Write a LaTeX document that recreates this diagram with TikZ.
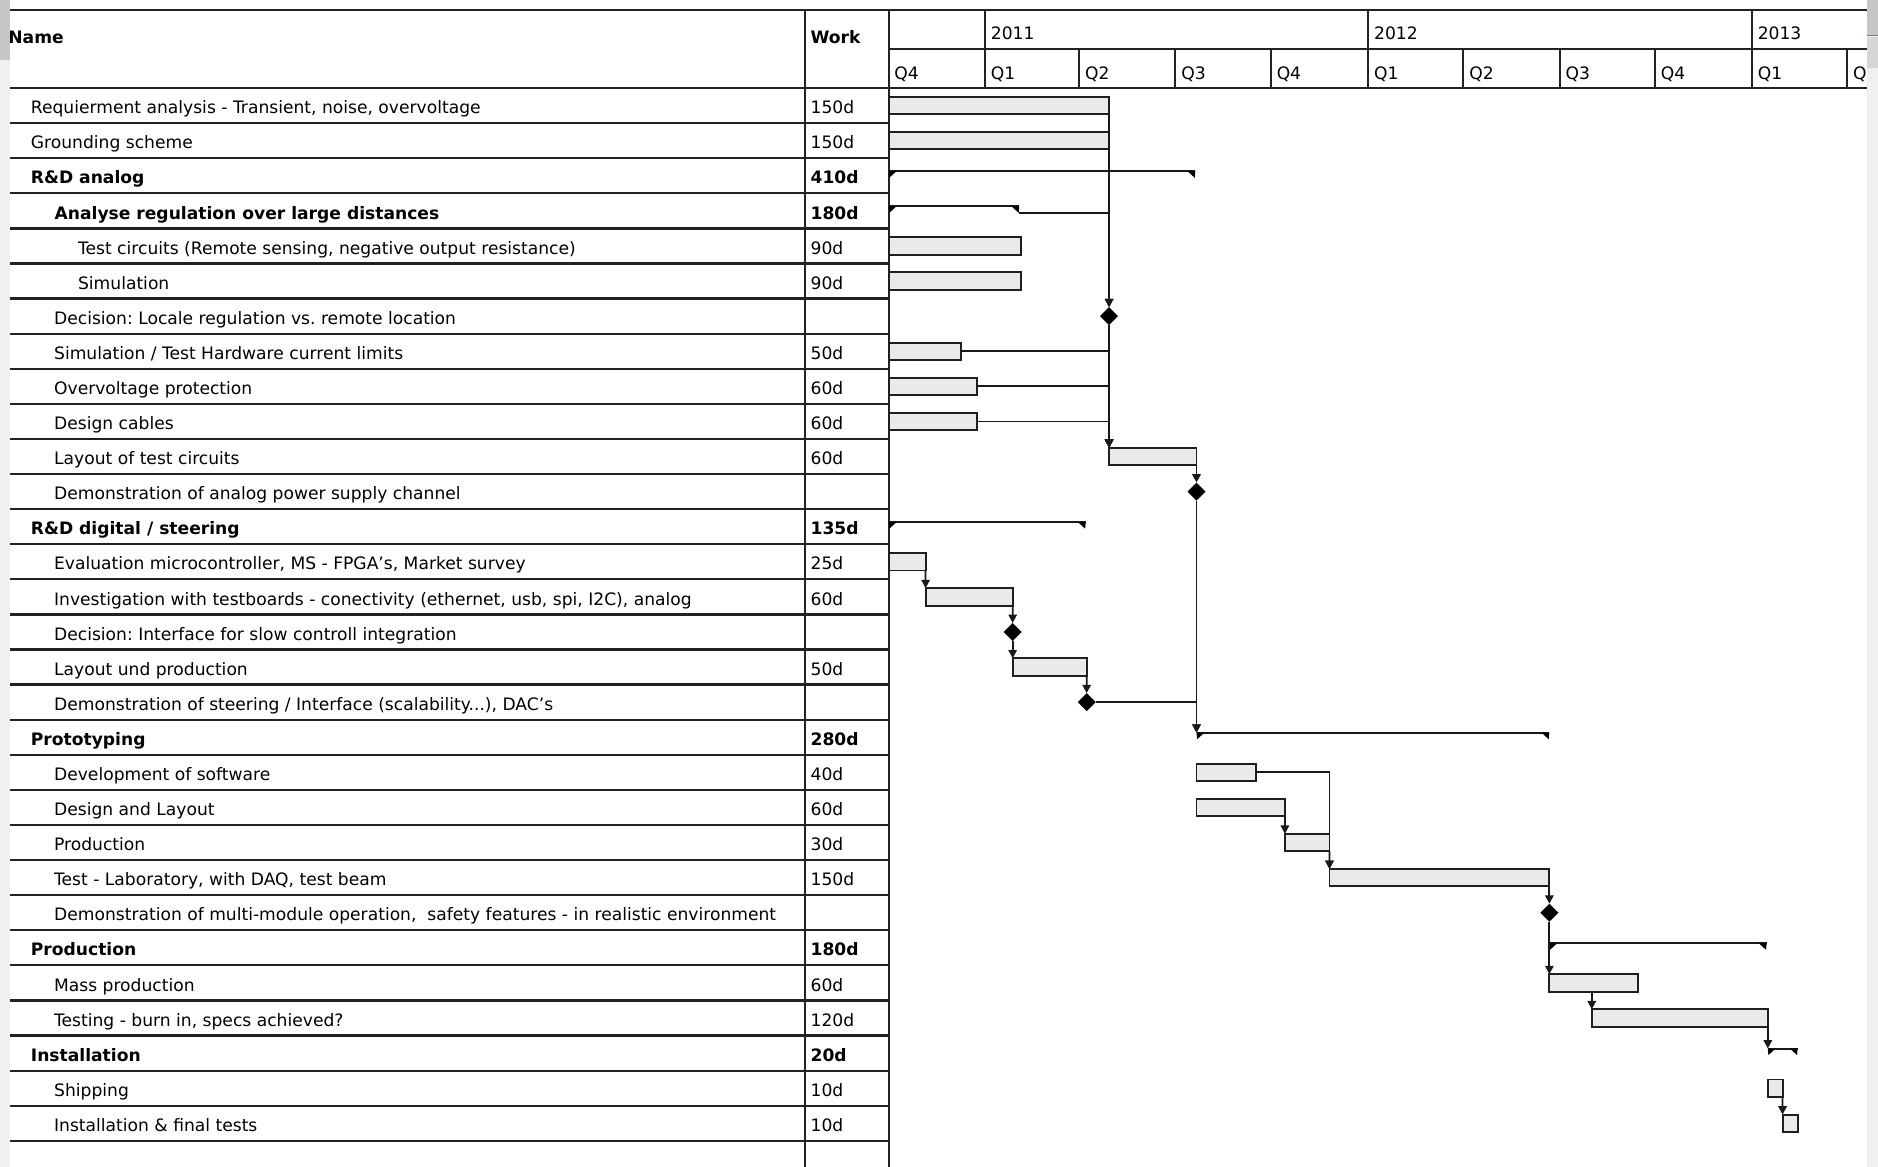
\documentclass[tikz,border=0pt]{standalone}
\usepackage{fontspec}
\setmainfont{DejaVu Sans}
\usetikzlibrary{calc,shapes.geometric,arrows.meta}
\definecolor{barfill}{HTML}{EAEAEA}
\definecolor{gridc}{HTML}{222222}
\definecolor{stripl}{HTML}{F0F0F0}
\definecolor{stripd}{HTML}{C6C6C6}
\definecolor{stripm}{HTML}{D6D6D6}
\definecolor{stripg}{HTML}{4E9E4E}
\newcommand\fsz{\fontsize{14.3}{17}\selectfont\frenchspacing}
\tikzset{
 gridline/.style={line width=1.7pt, draw=gridc},
 rowline/.style={line width=1.9pt, draw=gridc},
 barbox/.style={rectangle, draw=black!88, fill=barfill, line width=1.6pt, inner sep=0pt, outer sep=0pt, minimum height=14.5pt, anchor=west},
 mile/.style={diamond, fill=black, inner sep=0pt, outer sep=0pt, minimum width=15pt, minimum height=15pt},
 conn/.style={line width=1.5pt, draw=black!90},
 arr/.style={conn, -{Triangle[width=7pt,length=7pt]}},
 summ/.style={line width=1.6pt, draw=black!90},
 lbl/.style={anchor=base west, inner sep=0pt, outer sep=0pt, font=\fsz},
 bld/.style={lbl, font=\fsz\bfseries},
}
\newcommand\taskbar[4]{\node[barbox, minimum width={#4-#3}] (#1) at ($(r#2)+(#3,0)$) {};}
\newcommand\milestone[3]{\node[mile] (#1) at ($(r#2)+(#3,0)$) {};}
\newcommand\summarybar[4]{%
 \coordinate (#1a) at ($(r#2)+(#3,-3.8)$);
 \coordinate (#1b) at ($(r#2)+(#4,-3.8)$);
 \coordinate (#1t) at ($(r#2)+({#4-0.5},1.7)$);
 \draw[summ] (#1a) -- (#1b);
 \fill (#1a) -- ++(6.5,0) -- ++(-6,5.5) -- cycle;
 \fill (#1b) -- ++(-6.5,0) -- ++(6,5.5) -- cycle;}
\newcommand\tname[4]{\node[#1] (t#2) at ($(r#2)+(#3,6.8)$) {#4};}
\newcommand\twork[3]{\node[#1] (w#2) at ($(r#2)+(676.8,6.8)$) {#3};}
\begin{document}
\begin{tikzpicture}[x=1pt,y=-1pt]
\useasboundingbox (0,0) rectangle (1568,974);
\fill[white] (0,0) rectangle (1568,974);
\foreach \i in {1,...,30}{\coordinate (r\i) at (0,{58.85+29.3*\i});}
% grid
\draw[gridline] (8,8) -- (1558.5,8);
\draw[gridline] (742,41.2) -- (1558.5,41.2);
\draw[rowline] (8,73.5) -- (1558.5,73.5);
\foreach \k in {1,...,30}{\draw[rowline] (8,{73.5+29.3*\k}) -- (742,{73.5+29.3*\k});}
\draw[gridline] (672,8) -- (672,974);
\draw[gridline] (742,8) -- (742,974);
\foreach \x in {822.3,1142.3,1462.6}{\draw[gridline] (\x,8) -- (\x,73.5);}
\foreach \x in {901,981.3,1061,1221.8,1302.2,1381.7,1542.2}{\draw[gridline] (\x,41.2) -- (\x,73.5);}
% header texts
\node[bld] (hname) at (7,36.2) {Name};
\node[bld] (hwork) at (676.8,36.2) {Work};
\node[lbl] (y1) at (827.3,32.8) {2011};
\node[lbl] (y2) at (1147.3,32.8) {2012};
\node[lbl] (y3) at (1467.6,32.8) {2013};
\node[lbl] (q1) at (746.7,66.5) {Q4};
\node[lbl] (q2) at (827.3,66.5) {Q1};
\node[lbl] (q3) at (906,66.5) {Q2};
\node[lbl] (q4) at (986.3,66.5) {Q3};
\node[lbl] (q5) at (1066,66.5) {Q4};
\node[lbl] (q6) at (1147.3,66.5) {Q1};
\node[lbl] (q7) at (1226.8,66.5) {Q2};
\node[lbl] (q8) at (1307.2,66.5) {Q3};
\node[lbl] (q9) at (1386.7,66.5) {Q4};
\node[lbl] (q10) at (1467.6,66.5) {Q1};
\node[lbl] (q11) at (1547.2,66.5) {Q};
% task names
\tname{lbl}{1}{25.8}{Requierment analysis - Transient, noise, overvoltage}
\tname{lbl}{2}{25.8}{Grounding scheme}
\tname{bld}{3}{25.8}{R\&D analog}
\tname{bld}{4}{45.6}{Analyse regulation over large distances}
\tname{lbl}{5}{65.2}{Test circuits (Remote sensing, negative output resistance)}
\tname{lbl}{6}{65.2}{Simulation}
\tname{lbl}{7}{45.2}{Decision: Locale regulation vs. remote location}
\tname{lbl}{8}{45.2}{Simulation / Test Hardware current limits}
\tname{lbl}{9}{45.2}{Overvoltage protection}
\tname{lbl}{10}{45.2}{Design cables}
\tname{lbl}{11}{45.2}{Layout of test circuits}
\tname{lbl}{12}{45.2}{Demonstration of analog power supply channel}
\tname{bld}{13}{25.8}{R\&D digital / steering}
\tname{lbl}{14}{45.2}{Evaluation microcontroller, MS - FPGA's, Market survey}
\tname{lbl}{15}{45.2}{Investigation with testboards - conectivity (ethernet, usb, spi, I2C), analog}
\tname{lbl}{16}{45.2}{Decision: Interface for slow controll integration}
\tname{lbl}{17}{45.2}{Layout und production}
\tname{lbl}{18}{45.2}{Demonstration of steering / Interface (scalability...), DAC's}
\tname{bld}{19}{25.8}{Prototyping}
\tname{lbl}{20}{45.2}{Development of software}
\tname{lbl}{21}{45.2}{Design and Layout}
\tname{lbl}{22}{45.2}{Production}
\tname{lbl}{23}{45.2}{Test - Laboratory, with DAQ, test beam}
\tname{lbl}{24}{45.2}{Demonstration of multi-module operation,~ safety features - in realistic environment}
\tname{bld}{25}{25.8}{Production}
\tname{lbl}{26}{45.2}{Mass production}
\tname{lbl}{27}{45.2}{Testing - burn in, specs achieved?}
\tname{bld}{28}{25.8}{Installation}
\tname{lbl}{29}{45.2}{Shipping}
\tname{lbl}{30}{45.2}{Installation \& final tests}
% work
\twork{lbl}{1}{150d}
\twork{lbl}{2}{150d}
\twork{bld}{3}{410d}
\twork{bld}{4}{180d}
\twork{lbl}{5}{90d}
\twork{lbl}{6}{90d}
\twork{lbl}{8}{50d}
\twork{lbl}{9}{60d}
\twork{lbl}{10}{60d}
\twork{lbl}{11}{60d}
\twork{bld}{13}{135d}
\twork{lbl}{14}{25d}
\twork{lbl}{15}{60d}
\twork{lbl}{17}{50d}
\twork{bld}{19}{280d}
\twork{lbl}{20}{40d}
\twork{lbl}{21}{60d}
\twork{lbl}{22}{30d}
\twork{lbl}{23}{150d}
\twork{bld}{25}{180d}
\twork{lbl}{26}{60d}
\twork{lbl}{27}{120d}
\twork{bld}{28}{20d}
\twork{lbl}{29}{10d}
\twork{lbl}{30}{10d}
% bars
\taskbar{b1}{1}{742}{926}
\taskbar{b2}{2}{742}{926}
\summarybar{s3}{3}{742}{998}
\summarybar{s4}{4}{742}{851}
\taskbar{b5}{5}{742}{852.2}
\taskbar{b6}{6}{742}{852.2}
\milestone{m7}{7}{926}
\taskbar{b8}{8}{742}{802.5}
\taskbar{b9}{9}{742}{815.5}
\taskbar{b10}{10}{742}{815.5}
\taskbar{b11}{11}{926}{999}
\milestone{m12}{12}{999}
\summarybar{s13}{13}{742}{906.5}
\taskbar{b14}{14}{742}{772.8}
\taskbar{b15}{15}{772.8}{845.5}
\milestone{m16}{16}{845.5}
\taskbar{b17}{17}{845.5}{907.3}
\milestone{m18}{18}{907.3}
\summarybar{s19}{19}{999}{1293.6}
\taskbar{b20}{20}{999}{1048.4}
\taskbar{b21}{21}{999}{1072.8}
\taskbar{b22}{22}{1072.8}{1110}
\taskbar{b23}{23}{1110}{1293.6}
\milestone{m24}{24}{1293.6}
\summarybar{s25}{25}{1293.6}{1475}
\taskbar{b26}{26}{1293.6}{1367.3}
\taskbar{b27}{27}{1329}{1476}
\summarybar{s28}{28}{1476}{1500.9}
\taskbar{b29}{29}{1476}{1488.3}
\taskbar{b30}{30}{1488.3}{1500.9}
% connectors
\draw[arr] (b1.south east) -- (m7.north);
\draw[arr] (b2.south east) -- (m7.north);
\draw[arr] (s4t) -| (m7.north);
\draw[arr] (m7.south) -- (b11.north west);
\draw[arr] (b8.east) -| (b11.north west);
\draw[arr] (b9.east) -| (b11.north west);
\draw[arr] (b10.east) -| (b11.north west);
\draw[arr] (b11.south east) -- (m12.north);
\draw[arr] (m12.south) -- (s19a);
\draw[arr] (m18.east) -| (s19a);
\draw[arr] (b14.south east) -- (b15.north west);
\draw[arr] (b15.south east) -- (m16.north);
\draw[arr] (m16.south) -- (b17.north west);
\draw[arr] (b17.south east) -- (m18.north);
\draw[arr] (b20.east) -| (b23.north west);
\draw[arr] (b21.south east) -- (b22.north west);
\draw[arr] (b22.south east) -- (b23.north west);
\draw[arr] (b23.south east) -- (m24.north);
\draw[arr] (m24.south) -- (b26.north west);
\draw[arr] (b26.south -| b27.north west) -- (b27.north west);
\draw[arr] (b27.south east) -- (s28a);
\draw[arr] (b29.south east) -- (b30.north west);
% window edges
\fill[stripl] (0,0) rectangle (8,974);
\fill[stripd] (0,0) rectangle (8,50);
\fill[stripl] (1558.5,0) rectangle (1568,974);
\fill[stripd] (1558.5,0) rectangle (1568,29);
\fill[stripm] (1558.5,30.5) rectangle (1568,57);
\draw[stripg, line width=1.5pt] (1558.5,29.7) -- (1568,29.7);
\end{tikzpicture}
\end{document}
